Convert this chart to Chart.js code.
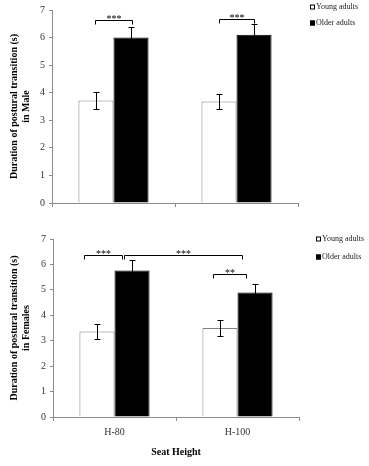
<!DOCTYPE html>
<html>
<head>
<meta charset="utf-8">
<title>Duration of postural transition</title>
<script src="https://cdn.jsdelivr.net/npm/chart.js@4.4.0/dist/chart.umd.min.js"></script>
<style>
  body { margin: 0; background: #fff; }
  canvas { position: absolute; left: 0; }
  #maleChart { top: 0; }
  #femaleChart { top: 220px; }
</style>
</head>
<body>
<canvas id="maleChart" width="369" height="220"></canvas>
<canvas id="femaleChart" width="369" height="246"></canvas>
<script>
const seatHeights = ["H-80", "H-100"];
const groups = ["Young adults", "Older adults"];

// Male
const maleYoung = [3.72, 3.68];
const maleYoungErr = [0.32, 0.26];
const maleOlder = [6.0, 6.1];
const maleOlderErr = [0.38, 0.38];

// Female
const femaleYoung = [3.36, 3.5];
const femaleYoungErr = [0.3, 0.3];
const femaleOlder = [5.76, 4.9];
const femaleOlderErr = [0.4, 0.33];

// significance brackets: from, to (category units), level, label
const maleBrackets = [
  [-0.15, 0.15, 6.63, "***"],
  [0.855, 1.14, 6.69, "***"],
];
const femaleBrackets = [
  [-0.25, 0.06, 6.37, "***"],
  [0.08, 1.035, 6.37, "***"],
  [0.8, 1.07, 5.61, "**"],
];

const axisGray = "#8c8c8c";
Chart.defaults.font.family = "'Liberation Serif', 'Times New Roman', serif";

// error bars, brackets and legend
const annotate = {
  id: "annotate",
  afterDatasetsDraw(chart, args, opts) {
    const ctx = chart.ctx;
    const x = chart.scales.x;
    const y = chart.scales.y;
    const step = x.getPixelForValue(1) - x.getPixelForValue(0);
    ctx.save();
    ctx.strokeStyle = "#000";
    ctx.lineWidth = 1;
    chart.data.datasets.forEach((ds, i) => {
      chart.getDatasetMeta(i).data.forEach((bar, j) => {
        const cx = Math.round(bar.x) + 0.5;
        const hi = Math.round(y.getPixelForValue(ds.data[j] + ds.errors[j])) + 0.5;
        const lo = Math.round(y.getPixelForValue(ds.data[j] - ds.errors[j])) + 0.5;
        ctx.beginPath();
        ctx.moveTo(cx, hi);
        ctx.lineTo(cx, lo);
        ctx.moveTo(cx - 3, hi);
        ctx.lineTo(cx + 3, hi);
        ctx.moveTo(cx - 3, lo);
        ctx.lineTo(cx + 3, lo);
        ctx.stroke();
      });
    });

    ctx.fillStyle = "#000";
    ctx.font = "10px 'Liberation Serif'";
    ctx.textAlign = "center";
    ctx.textBaseline = "alphabetic";
    opts.brackets.forEach(([a, b, v, label]) => {
      const x1 = Math.round(x.getPixelForValue(0) + a * step) + 0.5;
      const x2 = Math.round(x.getPixelForValue(0) + b * step) + 0.5;
      const yy = Math.round(y.getPixelForValue(v)) + 0.5;
      ctx.beginPath();
      ctx.moveTo(x1, yy + 4);
      ctx.lineTo(x1, yy);
      ctx.lineTo(x2, yy);
      ctx.lineTo(x2, yy + 4);
      ctx.stroke();
      ctx.fillText(label, (x1 + x2) / 2, yy + 1);
    });

    // legend
    ctx.font = "8px 'Liberation Serif'";
    ctx.textAlign = "left";
    ctx.textBaseline = "middle";
    chart.data.datasets.forEach((ds, i) => {
      const ly = opts.legend.y + i * opts.legend.gap;
      ctx.fillStyle = ds.backgroundColor;
      ctx.fillRect(opts.legend.x, ly - 2.5, 5, 5);
      ctx.strokeRect(opts.legend.x + 0.5, ly - 2, 4, 4);
      ctx.fillStyle = "#222";
      ctx.fillText(ds.label, opts.legend.x + 6, ly);
    });
    ctx.restore();
  },
};

function makeChart(id, young, youngErr, older, olderErr, titleLine, brackets, cfg) {
  return new Chart(document.getElementById(id), {
    type: "bar",
    data: {
      labels: seatHeights,
      datasets: [
        {
          label: groups[0],
          data: young,
          errors: youngErr,
          backgroundColor: "#ffffff",
          borderColor: "#7f7f7f",
          borderWidth: 1,
          categoryPercentage: 0.57,
          barPercentage: 1,
        },
        {
          label: groups[1],
          data: older,
          errors: olderErr,
          backgroundColor: "#000000",
          borderColor: "#000000",
          borderWidth: 1,
          categoryPercentage: 0.57,
          barPercentage: 1,
        },
      ],
    },
    plugins: [annotate],
    options: {
      responsive: false,
      animation: false,
      layout: { padding: { top: cfg.top, right: cfg.right, left: 0, bottom: 0 } },
      plugins: {
        legend: { display: false },
        tooltip: { enabled: false },
        annotate: { brackets: brackets, legend: cfg.legend },
      },
      scales: {
        x: {
          grid: { drawOnChartArea: false, offset: true, tickLength: 4, color: axisGray },
          border: { color: axisGray },
          ticks: { display: cfg.showX, padding: 5, color: "#333", font: { size: 10 } },
          title: {
            display: cfg.showX,
            text: "Seat Height",
            color: "#000",
            font: { size: 10, weight: "bold" },
            padding: { top: 4, bottom: 8 },
          },
          afterFit: (s) => { s.height = cfg.xHeight; },
        },
        y: {
          min: 0,
          max: 7,
          ticks: { stepSize: 1, padding: 4, color: "#333", font: { size: 10 } },
          grid: { drawOnChartArea: false, tickLength: 3, color: axisGray },
          border: { color: axisGray },
          title: {
            display: true,
            text: ["Duration of postural transition (s)", titleLine],
            color: "#000",
            font: { size: 10, weight: "bold", lineHeight: 1.2 },
            padding: { top: 8, bottom: 0 },
          },
          afterFit: (s) => { s.width = cfg.yWidth; },
        },
      },
    },
  });
}

makeChart("maleChart", maleYoung, maleYoungErr, maleOlder, maleOlderErr, "in Male", maleBrackets, {
  top: 9, right: 71, xHeight: 17, yWidth: 52, showX: false,
  legend: { x: 310, y: 7, gap: 16 },
});

makeChart("femaleChart", femaleYoung, femaleYoungErr, femaleOlder, femaleOlderErr, "in Females", femaleBrackets, {
  top: 19, right: 70, xHeight: 49, yWidth: 53, showX: true,
  legend: { x: 316, y: 19, gap: 18 },
});
</script>
</body>
</html>
